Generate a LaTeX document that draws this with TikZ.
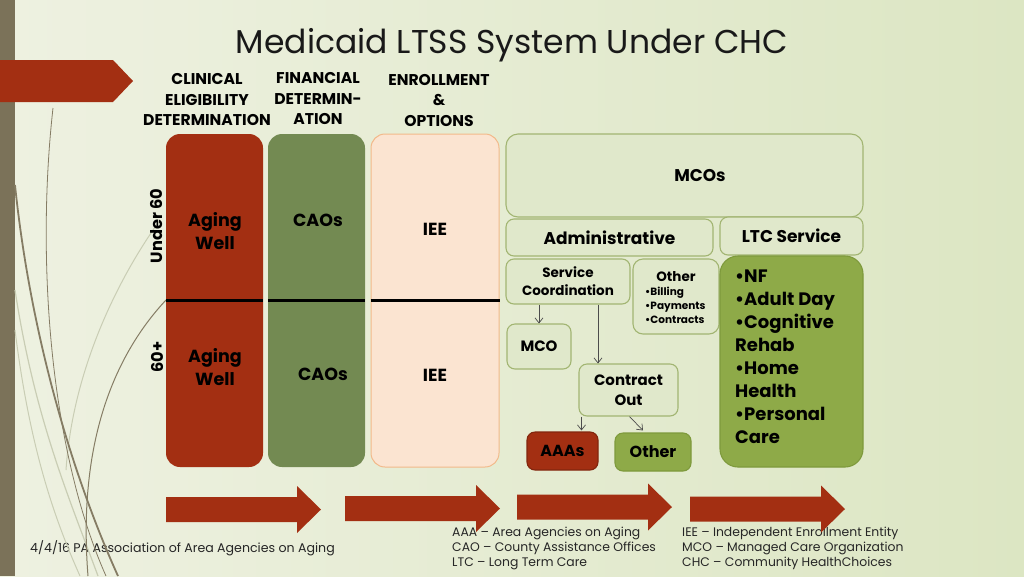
\documentclass[tikz,border=0pt]{standalone}
\usepackage{fontspec}
\setmainfont{Poppins}
\usetikzlibrary{arrows.meta}
\definecolor{bgL}{HTML}{EEF1E1}
\definecolor{bgM}{HTML}{F3F5EA}
\definecolor{bgR}{HTML}{DCE6C3}
\definecolor{barbrown}{HTML}{7B7259}
\definecolor{arrred}{HTML}{A32F12}
\definecolor{colgreen}{HTML}{738A52}
\definecolor{peach}{HTML}{FBE4D1}
\definecolor{peachline}{HTML}{F2B98A}
\definecolor{lightbox}{HTML}{E0E8CB}
\definecolor{lightline}{HTML}{A2B572}
\definecolor{biggreen}{HTML}{8EAA48}
\definecolor{biggreenline}{HTML}{7E9A3C}
\definecolor{decodark}{HTML}{857C64}
\definecolor{decolight}{HTML}{C9CDB4}
\begin{document}
\begin{tikzpicture}[x=1pt,y=-1pt,
  lbl/.style={font=\bfseries, text=black, align=center, inner sep=0pt},
  colbox/.style={rounded corners=14pt, inner sep=0pt, minimum height=333pt},
  lbox/.style={draw=lightline, line width=1.1pt, fill=lightbox, rounded corners=8pt, inner sep=0pt, align=center, font=\bfseries},
  flow/.style={draw=black!70, line width=0.7pt, -{Straight Barb[length=5pt,width=8pt]}},
  divider/.style={line width=2.6pt, black},
  foot/.style={font=\fontsize{12.6}{15}\selectfont, text=black!85, inner sep=0pt, align=left},
  bigarr/.pic={\fill[arrred] (0,-12.5) -- (131,-12.5) -- (131,-23.5) -- (155,0) -- (131,23.5) -- (131,12.5) -- (0,12.5) -- cycle;}
]
\useasboundingbox (0,0) rectangle (1024,576);
\shade[left color=bgL, middle color=bgM, right color=bgR] (0,0) rectangle (1024,576);
\fill[barbrown] (0,0) rectangle (15,576);
\fill[arrred] (0,60) -- (113,60) -- (133,81) -- (113,102) -- (0,102) -- cycle;

% title
\node[font=\fontsize{33}{38}\selectfont, text=black!90, inner sep=0pt] (title) at (512,45) {Medicaid LTSS System Under CHC};

% footer texts
\node[foot, anchor=west] (ft) at (30,548) {4/4/16 PA Association of Area Agencies on Aging};
\node[foot, anchor=north west, font=\fontsize{12.4}{15}\selectfont] (lg1) at (452,527) {AAA -- Area Agencies on Aging\\CAO -- County Assistance Offices\\LTC -- Long Term Care};
\node[foot, anchor=north west, font=\fontsize{12.4}{15}\selectfont] (lg2) at (682,527) {IEE -- Independent Enrollment Entity\\MCO -- Managed Care Organization\\CHC -- Community HealthChoices};

% decorative curves
\draw[decolight, line width=1pt] (160,220) .. controls (110,290) and (72,380) .. (66,470);
\draw[decolight, line width=1.2pt] (15,290) .. controls (35,420) and (70,500) .. (98,576);
\draw[decolight, line width=1pt] (15,330) .. controls (30,450) and (55,520) .. (80,576);
\draw[decodark, line width=0.8pt] (53,108) .. controls (36,260) and (50,450) .. (106,576);
\draw[decodark, line width=1.8pt] (15,185) .. controls (30,330) and (70,470) .. (118,576);
\draw[decodark, line width=1pt] (166,300) .. controls (110,360) and (78,450) .. (88,576);

% columns
\node[colbox, fill=arrred, minimum width=97pt] (rc) at (214.5,300.5) {};
\node[colbox, fill=colgreen, minimum width=97pt] (gc) at (316.5,300.5) {};
\node[colbox, fill=peach, draw=peachline, line width=1pt, minimum width=128pt] (pc) at (435,300.5) {};
\draw[divider] (rc.west) -- (rc.east);
\draw[divider] (gc.west) -- (gc.east);
\draw[divider] (pc.west) -- (pc.east);

% headers
\node[lbl, font=\bfseries\fontsize{15.6}{20.5}\selectfont] (h1) at (207,100) {CLINICAL\\ELIGIBILITY\\DETERMINATION};
\node[lbl, font=\bfseries\fontsize{15.6}{20.5}\selectfont] (h2) at (318,99) {FINANCIAL\\DETERMIN-\\ATION};
\node[lbl, font=\bfseries\fontsize{15.6}{20.5}\selectfont] (h3) at (439,100) {ENROLLMENT\\\&\\OPTIONS};

% column texts
\node[lbl, font=\bfseries\fontsize{17.5}{23}\selectfont] (aw1) at (215,231) {Aging\\Well};
\node[lbl, font=\bfseries\fontsize{17.5}{23}\selectfont] (aw2) at (215,367) {Aging\\Well};
\node[lbl, font=\bfseries\fontsize{17.5}{23}\selectfont] (cao1) at (318,220) {CAOs};
\node[lbl, font=\bfseries\fontsize{17.5}{23}\selectfont] (cao2) at (323,374) {CAOs};
\node[lbl, font=\bfseries\fontsize{17.5}{23}\selectfont] (iee1) at (435,229) {IEE};
\node[lbl, font=\bfseries\fontsize{17.5}{23}\selectfont] (iee2) at (435,375) {IEE};
\node[lbl, font=\bfseries\fontsize{16.2}{18}\selectfont, rotate=90] (u60) at (157,226) {Under 60};
\node[lbl, font=\bfseries\fontsize{16.2}{18}\selectfont, rotate=90] (s60) at (157,357) {60+};

% MCO area
\node[lbox, rounded corners=12pt, minimum width=357pt, minimum height=83pt] (mcos) at (684.5,175.5) {};
\node[lbl, font=\bfseries\fontsize{17}{20}\selectfont] (mcost) at (700,176) {MCOs};
\node[lbox, minimum width=207pt, minimum height=37pt, font=\bfseries\fontsize{17}{20}\selectfont] (adm) at (609.5,237.5) {Administrative};
\node[lbox, minimum width=143pt, minimum height=38pt, font=\bfseries\fontsize{17}{20}\selectfont] (ltc) at (791.5,236) {LTC Service};
\node[lbox, minimum width=124pt, minimum height=45pt, font=\bfseries\fontsize{13.5}{18}\selectfont] (sc) at (568,281.5) {Service\\Coordination};
\node[lbox, rounded corners=10pt, minimum width=86pt, minimum height=75pt] (oth) at (676,296.5) {};
\node[lbl, font=\bfseries\fontsize{13.5}{16}\selectfont] (othT) at (676,277) {Other};
\node[lbl, font=\bfseries\fontsize{10.5}{14}\selectfont, align=left, anchor=north west] (othL) at (645,287) {\textbullet Billing\\\textbullet Payments\\\textbullet Contracts};
\node[draw=biggreenline, line width=1.1pt, fill=biggreen, rounded corners=18pt, minimum width=143pt, minimum height=211pt, inner sep=0pt] (ltcbox) at (791.5,361.5) {};
\node[lbl, font=\bfseries\fontsize{18}{23}\selectfont, align=left, anchor=north west] (ltcL) at (735,270) {\textbullet NF\\\textbullet Adult Day\\\textbullet Cognitive\\Rehab\\\textbullet Home\\Health\\\textbullet Personal\\Care};
\node[lbox, minimum width=64pt, minimum height=45pt, font=\bfseries\fontsize{15}{18}\selectfont] (mco) at (539,346.5) {MCO};
\node[lbox, minimum width=99pt, minimum height=52pt, font=\bfseries\fontsize{15}{20}\selectfont] (co) at (628.5,390) {Contract\\Out};
\node[lbox, draw=arrred!80!black, fill=arrred, minimum width=71pt, minimum height=38pt, font=\bfseries\fontsize{16}{20}\selectfont] (aaa) at (562.5,451) {AAAs};
\node[lbox, draw=biggreenline, fill=biggreen, minimum width=76pt, minimum height=38pt, font=\bfseries\fontsize{16}{20}\selectfont] (oth2) at (653,452) {Other};

\draw[flow] (sc.south -| mco.north) -- (mco.north);
\draw[flow] ([xshift=30pt]sc.south) -- ([xshift=30pt]sc.south |- co.north);
\draw[flow] ([xshift=-47pt]co.south) -- ([xshift=-47pt,yshift=1pt]co.south |- aaa.north);
\draw[flow] ([xshift=1pt]co.south) -- ([xshift=-10pt,yshift=2pt]oth2.north);

% bottom arrows
\pic at (166,509.5) {bigarr};
\pic at (345,508.5) {bigarr};
\pic at (517,507) {bigarr};
\pic at (690,509) {bigarr};
\end{tikzpicture}
\end{document}
